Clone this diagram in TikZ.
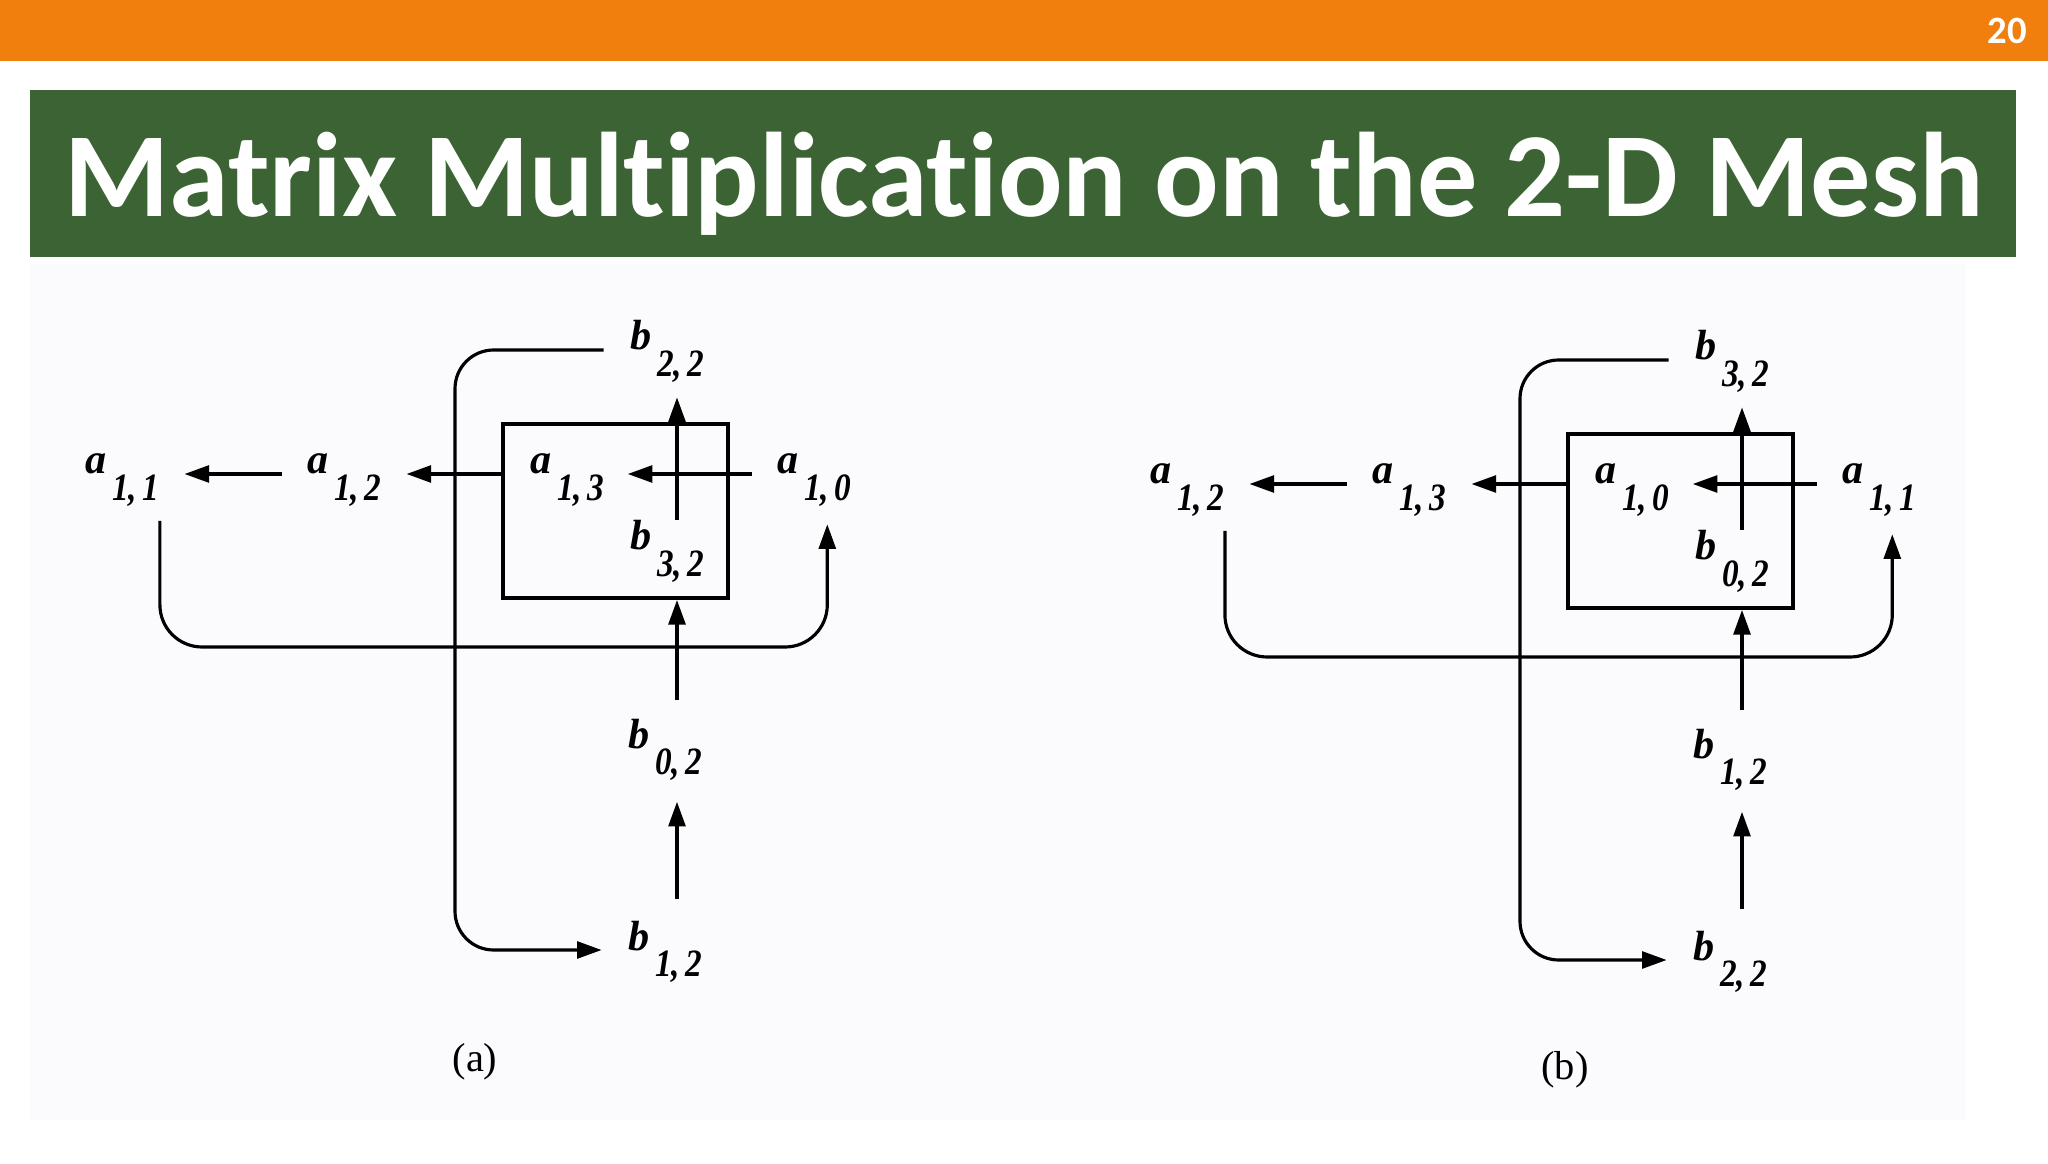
\documentclass[tikz,border=0pt]{standalone}
\usepackage{fontspec}
\usepackage{graphicx}
\newfontfamily\slidefont[Ligatures=NoCommon]{Carlito}
\newfontfamily\scanfont{Liberation Serif}
\usetikzlibrary{arrows.meta,calc}

\definecolor{barorange}{RGB}{240,127,14}
\definecolor{titlegreen}{RGB}{60,99,51}
\definecolor{scanwhite}{RGB}{251,250,253}

% matrix entry: letter with a big lowered index
\newcommand{\ent}[3]{#1\hspace{1.5pt}\raisebox{-7.4pt}{\scalebox{0.86}[1]{\fontsize{11}{12}\selectfont #2,\,#3}}}

\tikzset{
  lbl/.style={anchor=base west, inner sep=0pt, font=\scanfont\bfseries\itshape\fontsize{12}{14}\selectfont},
  arr/.style={-{Triangle[length=7pt,width=4.8pt]}, line width=0.9pt},
  cell/.style={draw, line width=1.1pt, minimum width=2.25cm, minimum height=1.74cm, inner sep=0pt},
  panelcap/.style={font=\scanfont\fontsize{11.5}{12}\selectfont},
}

\begin{document}
\begin{tikzpicture}[x=0.01cm,y=-0.01cm]
\useasboundingbox (0,0) rectangle (2048,1164);
\fill[white] (0,0) rectangle (2048,1164);
\fill[barorange] (0,0) rectangle (2048,61);
\fill[titlegreen] (30,90) rectangle (2016,257);
\fill[scanwhite] (30,264) rectangle (1966,1120);

\node[anchor=base, text=white, font=\slidefont\bfseries\fontsize{11}{12}\selectfont] (pagenum) at (2007,44) {20};
\node[anchor=base, text=white, font=\slidefont\bfseries\fontsize{34.2}{40}\selectfont] (title) at (1024,217) {Matrix Multiplication on the 2-D Mesh};

%--------------------------------- (a)
\begin{scope}
\coordinate (sa-col) at (677,0);
\coordinate (sa-aloop) at (500,647);
\coordinate (sa-bloop) at (455,640);

\node[cell] (sa-box) at (615.5,511) {};
\node[lbl] (sa-a11) at (85,474) {\ent{a}{1}{1}};
\node[lbl] (sa-a12) at (307,474) {\ent{a}{1}{2}};
\node[lbl] (sa-a13) at (530,474) {\ent{a}{1}{3}};
\node[lbl] (sa-a10) at (777,474) {\ent{a}{1}{0}};
\node[lbl] (sa-b22) at (630,350) {\ent{b}{2}{2}};
\node[lbl] (sa-b32) at (630,550) {\ent{b}{3}{2}};
\node[lbl] (sa-b02) at (628,748) {\ent{b}{0}{2}};
\node[lbl] (sa-b12) at (628,950) {\ent{b}{1}{2}};
\node[panelcap] (sa-cap) at (475,1062) {(a)};

\draw[arr] ([xshift=-7pt]sa-a10.base west) -- ([xshift=6.5pt]sa-a13.base east);
\draw[arr] (sa-box.west |- sa-a12.base) -- ([xshift=7pt]sa-a12.base east);
\draw[arr] ([xshift=-7pt]sa-a12.base west) -- ([xshift=7pt]sa-a11.base east);
\draw[arr, rounded corners=12pt] ([yshift=-4pt]sa-a11.south east) |- (sa-aloop) -| ([xshift=-7pt,yshift=-5pt]sa-a10.south east);

\draw[arr] (sa-b32.north -| sa-col) -- ([yshift=7pt]sa-box.north -| sa-col);
\draw[arr] ([yshift=5pt]sa-b02.north -| sa-col) -- (sa-box.south -| sa-col);
\draw[arr] ([yshift=6pt]sa-b12.north -| sa-col) -- ([yshift=-6pt]sa-b02.south -| sa-col);
\draw[arr, rounded corners=11pt] ([xshift=-7.5pt]sa-b22.base west) -| (sa-bloop) |- ([xshift=-7.5pt]sa-b12.base west);
\end{scope}

%--------------------------------- (b)
\begin{scope}[shift={(1065,10)}]
\coordinate (sb-col) at (677,0);
\coordinate (sb-aloop) at (500,647);
\coordinate (sb-bloop) at (455,640);

\node[cell] (sb-box) at (615.5,511) {};
\node[lbl] (sb-a12) at (85,474) {\ent{a}{1}{2}};
\node[lbl] (sb-a13) at (307,474) {\ent{a}{1}{3}};
\node[lbl] (sb-a10) at (530,474) {\ent{a}{1}{0}};
\node[lbl] (sb-a11) at (777,474) {\ent{a}{1}{1}};
\node[lbl] (sb-b32) at (630,350) {\ent{b}{3}{2}};
\node[lbl] (sb-b02) at (630,550) {\ent{b}{0}{2}};
\node[lbl] (sb-b12) at (628,748) {\ent{b}{1}{2}};
\node[lbl] (sb-b22) at (628,950) {\ent{b}{2}{2}};
\node[panelcap] (sb-cap) at (500,1060) {(b)};

\draw[arr] ([xshift=-7pt]sb-a11.base west) -- ([xshift=6.5pt]sb-a10.base east);
\draw[arr] (sb-box.west |- sb-a13.base) -- ([xshift=7pt]sb-a13.base east);
\draw[arr] ([xshift=-7pt]sb-a13.base west) -- ([xshift=7pt]sb-a12.base east);
\draw[arr, rounded corners=12pt] ([yshift=-4pt]sb-a12.south east) |- (sb-aloop) -| ([xshift=-7pt,yshift=-5pt]sb-a11.south east);

\draw[arr] (sb-b02.north -| sb-col) -- ([yshift=7pt]sb-box.north -| sb-col);
\draw[arr] ([yshift=5pt]sb-b12.north -| sb-col) -- (sb-box.south -| sb-col);
\draw[arr] ([yshift=6pt]sb-b22.north -| sb-col) -- ([yshift=-6pt]sb-b12.south -| sb-col);
\draw[arr, rounded corners=11pt] ([xshift=-7.5pt]sb-b32.base west) -| (sb-bloop) |- ([xshift=-7.5pt]sb-b22.base west);
\end{scope}
\end{tikzpicture}
\end{document}
